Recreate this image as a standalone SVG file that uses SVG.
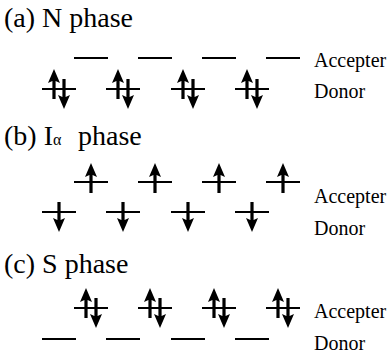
<svg xmlns="http://www.w3.org/2000/svg" xmlns:xlink="http://www.w3.org/1999/xlink" width="389" height="358" viewBox="0 0 389 358">
<style>
.title{font-family:"Liberation Serif","Times New Roman",serif;font-size:28px;fill:#000}
.lbl{font-family:"Liberation Serif","Times New Roman",serif;font-size:20px;fill:#000}
.lvl{stroke:#000;stroke-width:2;fill:none}
.arr{fill:#000}
</style>
<defs>
<path id="up" d="M0,0 L6,14 L1.6,12 L1.6,30 L-1.6,30 L-1.6,12 L-6,14 Z"/>
<path id="dn" d="M0,0 L6,-14 L1.6,-12 L1.6,-30 L-1.6,-30 L-1.6,-12 L-6,-14 Z"/>
</defs>
<rect width="389" height="358" fill="#fff"/>

<g id="panel-a">
<text class="title" x="4" y="27">(a) N phase</text>
<g id="a-acceptor" class="lvl">
<line x1="74" y1="58" x2="108" y2="58"/><line x1="138" y1="58" x2="172" y2="58"/><line x1="202" y1="58" x2="236" y2="58"/><line x1="266" y1="58" x2="300" y2="58"/>
</g>
<g id="a-donor">
<g class="lvl"><line x1="42" y1="89" x2="76" y2="89"/><line x1="106" y1="89" x2="140" y2="89"/><line x1="171" y1="89" x2="205" y2="89"/><line x1="235" y1="89" x2="269" y2="89"/></g>
<g class="arr">
<use xlink:href="#up" x="54" y="69"/><use xlink:href="#dn" x="64" y="109"/>
<use xlink:href="#up" x="118" y="69"/><use xlink:href="#dn" x="128" y="109"/>
<use xlink:href="#up" x="183" y="69"/><use xlink:href="#dn" x="193" y="109"/>
<use xlink:href="#up" x="247" y="69"/><use xlink:href="#dn" x="257" y="109"/>
</g>
</g>
<text class="lbl" x="314" y="67">Accepter</text>
<text class="lbl" x="314" y="98">Donor</text>
</g>

<g id="panel-b">
<text class="title" x="4" y="145">(b) I<tspan font-size="16">α</tspan><tspan x="78">phase</tspan></text>
<g id="b-acceptor">
<g class="lvl"><line x1="74" y1="182" x2="108" y2="182"/><line x1="138" y1="182" x2="172" y2="182"/><line x1="202" y1="182" x2="236" y2="182"/><line x1="266" y1="182" x2="300" y2="182"/></g>
<g class="arr"><use xlink:href="#up" x="91" y="163"/><use xlink:href="#up" x="155" y="163"/><use xlink:href="#up" x="219" y="163"/><use xlink:href="#up" x="283" y="163"/></g>
</g>
<g id="b-donor">
<g class="lvl"><line x1="42" y1="212" x2="76" y2="212"/><line x1="106" y1="212" x2="140" y2="212"/><line x1="171" y1="212" x2="205" y2="212"/><line x1="235" y1="212" x2="269" y2="212"/></g>
<g class="arr"><use xlink:href="#dn" x="59" y="232"/><use xlink:href="#dn" x="123" y="232"/><use xlink:href="#dn" x="188" y="232"/><use xlink:href="#dn" x="252" y="232"/></g>
</g>
<text class="lbl" x="314" y="203">Accepter</text>
<text class="lbl" x="314" y="235">Donor</text>
</g>

<g id="panel-c">
<text class="title" x="4" y="273">(c) S phase</text>
<g id="c-acceptor">
<g class="lvl"><line x1="74" y1="308" x2="108" y2="308"/><line x1="138" y1="308" x2="172" y2="308"/><line x1="202" y1="308" x2="236" y2="308"/><line x1="266" y1="308" x2="300" y2="308"/></g>
<g class="arr">
<use xlink:href="#up" x="86" y="288"/><use xlink:href="#dn" x="96" y="328"/>
<use xlink:href="#up" x="150" y="288"/><use xlink:href="#dn" x="160" y="328"/>
<use xlink:href="#up" x="214" y="288"/><use xlink:href="#dn" x="224" y="328"/>
<use xlink:href="#up" x="278" y="288"/><use xlink:href="#dn" x="288" y="328"/>
</g>
</g>
<g id="c-donor" class="lvl">
<line x1="42" y1="339" x2="76" y2="339"/><line x1="106" y1="339" x2="140" y2="339"/><line x1="171" y1="339" x2="205" y2="339"/><line x1="235" y1="339" x2="269" y2="339"/>
</g>
<text class="lbl" x="314" y="318">Accepter</text>
<text class="lbl" x="314" y="350">Donor</text>
</g>
<g id="connectors"/>
</svg>
